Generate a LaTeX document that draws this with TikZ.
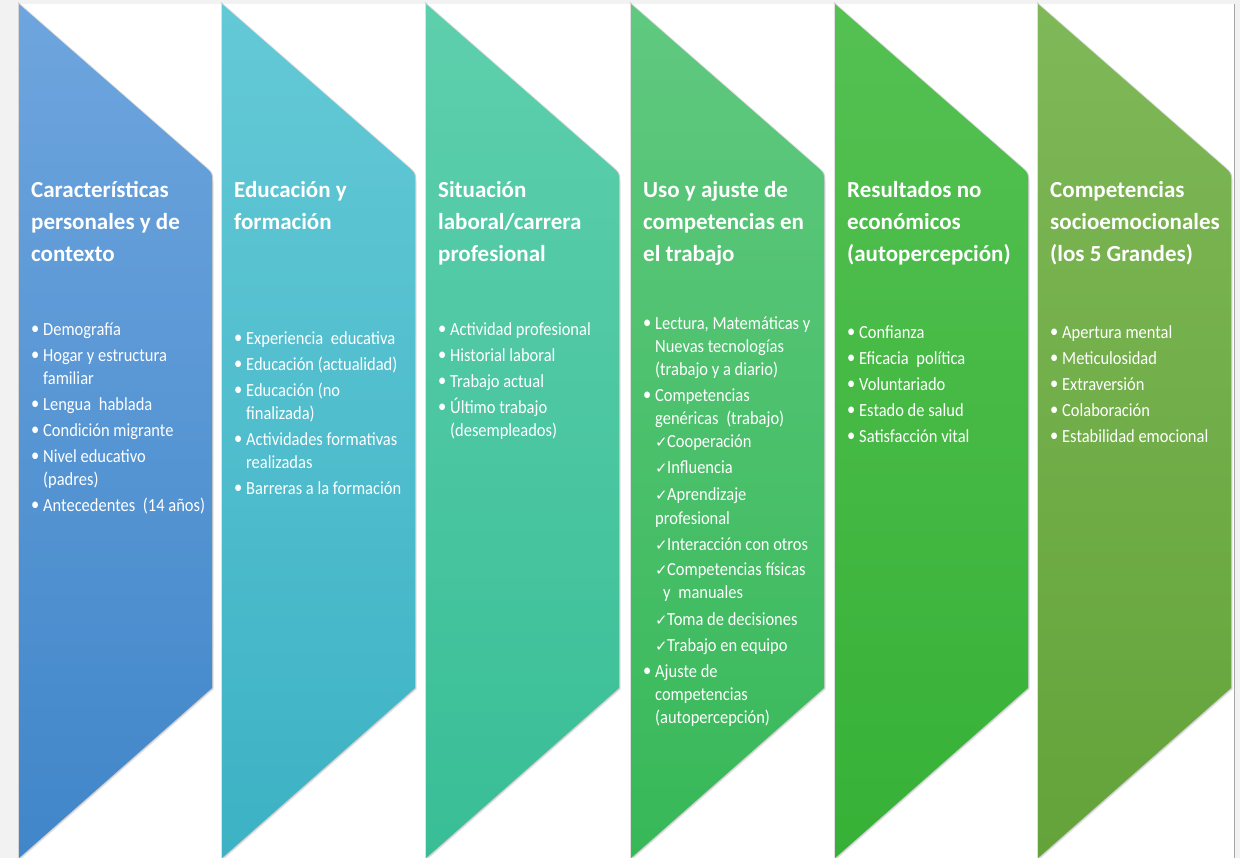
\documentclass[tikz,border=0pt]{standalone}
\usepackage{fontspec}
\setmainfont{Carlito}
\newfontfamily\lstfont[FakeStretch=0.89]{Carlito}
\newfontfamily\symfont{DejaVu Sans}
\definecolor{bgc}{RGB}{242,242,242}
\definecolor{cAt}{RGB}{110,165,222}\definecolor{cAb}{RGB}{64,134,201}
\definecolor{cBt}{RGB}{100,201,214}\definecolor{cBb}{RGB}{60,178,196}
\definecolor{cCt}{RGB}{94,207,172}\definecolor{cCb}{RGB}{56,190,150}
\definecolor{cDt}{RGB}{96,201,128}\definecolor{cDb}{RGB}{55,184,88}
\definecolor{cEt}{RGB}{84,193,82}\definecolor{cEb}{RGB}{54,177,54}
\definecolor{cFt}{RGB}{127,184,88}\definecolor{cFb}{RGB}{99,163,57}
\newcommand\chevpath[1]{(#1,4) -- ({#1+186},{166.8}) .. controls ({#1+193},{173}) .. ({#1+193},{181}) -- ({#1+193},688) -- (#1,858) -- cycle}
\newcommand\chevron[3]{%
  \fill[black,opacity=.10] [shift={(1.5,1.5)}] \chevpath{#1};
  \draw[gray,opacity=.25,line width=2pt] \chevpath{#1};
  \shade[top color=#2,bottom color=#3] \chevpath{#1};}
\newcommand\bl{\makebox[12pt][l]{\raisebox{0.5pt}{•}}}
\newcommand\ind{\hspace*{12pt}}
\newcommand\ck{\makebox[12pt][l]{{\symfont\fontsize{15}{15}\selectfont ✓}}}
\newcommand\wsp{\hspace{4pt}}
\tikzset{
  ttl/.style={anchor=north west,inner sep=0pt,align=left,text=white,font=\fontsize{23}{32}\selectfont\bfseries},
  lst/.style={anchor=north west,inner sep=0pt,align=left,text=white,font=\lstfont\fontsize{18.5}{23}\selectfont}}
\begin{document}
\begin{tikzpicture}[x=1pt,y=-1pt]
\useasboundingbox (0,0) rectangle (1240,858);
\fill[bgc] (0,0) rectangle (1240,858);
\fill[white] (19,4) rectangle (1234,858);
\draw[gray!70,line width=1.2pt] (1234.6,4) -- (1234.6,858);
\chevron{19}{cAt}{cAb}
\chevron{222}{cBt}{cBb}
\chevron{426}{cCt}{cCb}
\chevron{631}{cDt}{cDb}
\chevron{835}{cEt}{cEb}
\chevron{1038}{cFt}{cFb}
% titles
\node[ttl] (t1) at (31,177) {\rule{0pt}{20pt}Características\\personales y de\\contexto};
\node[ttl] (t2) at (234,177) {\rule{0pt}{20pt}Educación y\\formación};
\node[ttl] (t3) at (438,177) {\rule{0pt}{20pt}Situación\\laboral/carrera\\profesional};
\node[ttl] (t4) at (643,177) {\rule{0pt}{20pt}Uso y ajuste de\\competencias en\\el trabajo};
\node[ttl] (t5) at (847,177) {\rule{0pt}{20pt}Resultados no\\económicos\\(autopercepción)};
\node[ttl] (t6) at (1050,177) {\rule{0pt}{20pt}Competencias\\socioemocionales\\(los 5 Grandes)};
% lists
\node[lst] (l1) at (31,319) {\rule{0pt}{16pt}\bl Demografía\\[3pt]
\bl Hogar y estructura\\ \ind familiar\\[3pt]
\bl Lengua\wsp{} hablada\\[3pt]
\bl Condición migrante\\[3pt]
\bl Nivel educativo\\ \ind (padres)\\[3pt]
\bl Antecedentes\wsp{} (14 años)};
\node[lst] (l2) at (234,328) {\rule{0pt}{16pt}\bl Experiencia\wsp{} educativa\\[3pt]
\bl Educación (actualidad)\\[3pt]
\bl Educación (no\\ \ind finalizada)\\[3pt]
\bl Actividades formativas\\ \ind realizadas\\[3pt]
\bl Barreras a la formación};
\node[lst] (l3) at (438,319) {\rule{0pt}{16pt}\bl Actividad profesional\\[3pt]
\bl Historial laboral\\[3pt]
\bl Trabajo actual\\[3pt]
\bl Último trabajo\\ \ind (desempleados)};
\node[lst] (l4) at (643,313) {\rule{0pt}{16pt}\bl Lectura, Matemáticas y\\ \ind Nuevas tecnologías\\ \ind (trabajo y a diario)\\[3pt]
\bl Competencias\\ \ind genéricas\wsp{} (trabajo)\\
\ind\ck Cooperación\\[3pt]
\ind\ck Influencia\\[4pt]
\ind\ck Aprendizaje\\[1pt] \ind profesional\\[3pt]
\ind\ck Interacción con otros\\[2pt]
\ind\ck Competencias físicas\\ \ind\hspace*{8pt}y\wsp{} manuales\\[4pt]
\ind\ck Toma de decisiones\\[3pt]
\ind\ck Trabajo en equipo\\[3pt]
\bl Ajuste de\\ \ind competencias\\ \ind (autopercepción)};
\node[lst] (l5) at (847,322) {\rule{0pt}{16pt}\bl Confianza\\[3pt]
\bl Eficacia\wsp{} política\\[3pt]
\bl Voluntariado\\[3pt]
\bl Estado de salud\\[3pt]
\bl Satisfacción vital};
\node[lst] (l6) at (1050,322) {\rule{0pt}{16pt}\bl Apertura mental\\[3pt]
\bl Meticulosidad\\[3pt]
\bl Extraversión\\[3pt]
\bl Colaboración\\[3pt]
\bl Estabilidad emocional};
\end{tikzpicture}
\end{document}
